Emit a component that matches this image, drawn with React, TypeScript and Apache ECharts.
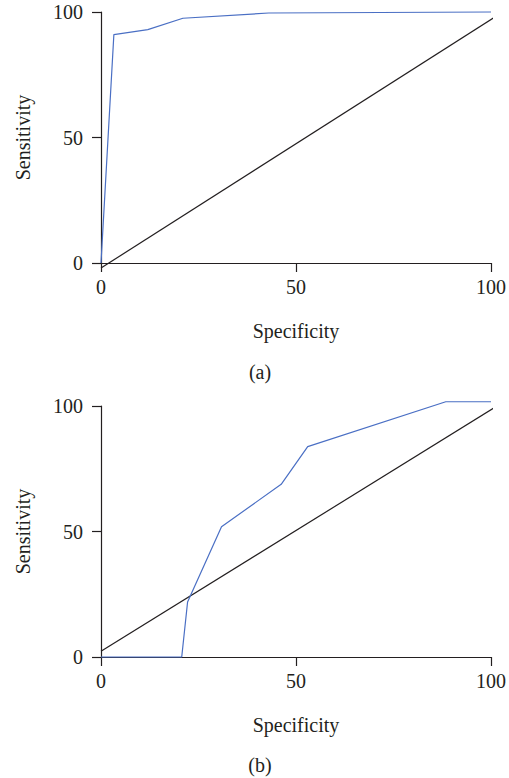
import React, { useEffect, useRef } from "react";
import * as echarts from "echarts";

// Panel (a)
const rocAX = [0, 3.3, 12, 21, 43, 100];
const rocAY = [0, 91, 93, 97.5, 99.6, 100];
const refAX = [0, 101];
const refAY = [-2, 98];
// Panel (b)
const rocBX = [0, 20.7, 22.2, 30.9, 46.2, 53, 88.4, 100];
const rocBY = [0, 0, 21.9, 51.9, 68.8, 83.8, 101.7, 101.7];
const refBX = [0, 102.6];
const refBY = [2.3, 101];

const xTicks = [0, 50, 100];
const yTicks = [0, 50, 100];
const xTitle = "Specificity";
const yTitle = "Sensitivity";
const panelLabels = ["(a)", "(b)"];

const FONT = "Liberation Serif";
const INK = "#231F20";
const BLUE = "#4A6FC4";

const zip = (xs: number[], ys: number[]) => xs.map((x, i) => [x, ys[i]]);

export default function App() {
  const ref = useRef<HTMLDivElement>(null);
  useEffect(() => {
    if (!ref.current) return;
    const chart = echarts.init(ref.current, null, { renderer: "svg" });
    const mkX = (gi: number) => ({
      gridIndex: gi,
      type: "value",
      min: xTicks[0],
      max: xTicks[xTicks.length - 1],
      interval: 50,
      name: xTitle,
      nameLocation: "middle",
      nameGap: 58,
      nameTextStyle: { fontFamily: FONT, fontSize: 20, color: INK },
      splitLine: { show: false },
      axisLine: { lineStyle: { color: INK, width: 1.2 } },
      axisTick: { length: 9, lineStyle: { color: INK, width: 1.2 } },
      axisLabel: { fontFamily: FONT, fontSize: 20, color: INK, margin: 14 },
    });
    const mkY = (gi: number) => ({
      gridIndex: gi,
      type: "value",
      min: yTicks[0],
      max: yTicks[yTicks.length - 1],
      interval: 50,
      name: yTitle,
      nameLocation: "middle",
      nameGap: 68,
      nameTextStyle: { fontFamily: FONT, fontSize: 20, color: INK },
      splitLine: { show: false },
      axisLine: { show: true, lineStyle: { color: INK, width: 1.2 } },
      axisTick: { show: true, length: 9, lineStyle: { color: INK, width: 1.2 } },
      axisLabel: { fontFamily: FONT, fontSize: 20, color: INK, margin: 18 },
    });
    const line = (gi: number, data: number[][], color: string, z: number) => ({
      type: "line",
      xAxisIndex: gi,
      yAxisIndex: gi,
      data,
      showSymbol: false,
      symbol: "none",
      clip: false,
      z,
      lineStyle: { color, width: 1.2 },
    });
    chart.setOption({
      animation: false,
      grid: [
        { left: 101, top: 12, width: 393, height: 251 },
        { left: 101, top: 406, width: 393, height: 251 },
      ],
      xAxis: [mkX(0), mkX(1)],
      yAxis: [mkY(0), mkY(1)],
      series: [
        line(0, zip(refAX, refAY), INK, 2),
        line(0, zip(rocAX, rocAY), BLUE, 3),
        line(1, zip(refBX, refBY), INK, 2),
        line(1, zip(rocBX, rocBY), BLUE, 3),
      ],
      graphic: [
        {
          type: "text",
          x: 260,
          y: 372,
          style: { text: panelLabels[0], fontFamily: FONT, fontSize: 20, fill: INK, align: "center", verticalAlign: "middle" },
        },
        {
          type: "text",
          x: 260,
          y: 765,
          style: { text: panelLabels[1], fontFamily: FONT, fontSize: 20, fill: INK, align: "center", verticalAlign: "middle" },
        },
      ],
    });
    return () => chart.dispose();
  }, []);
  return (
    <div
      ref={ref}
      style={{ position: "fixed", left: 0, top: 0, width: 509, height: 778, background: "#fff" }}
    />
  );
}
